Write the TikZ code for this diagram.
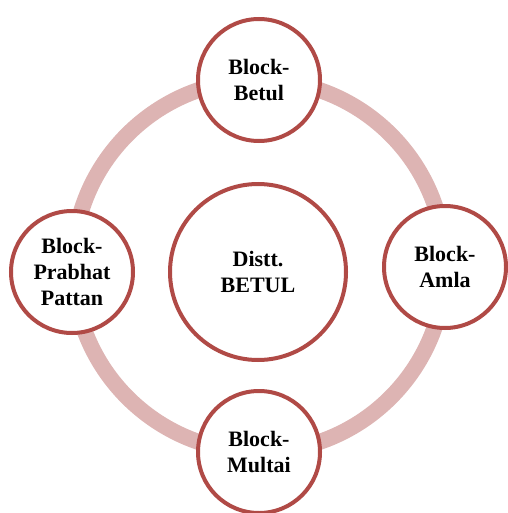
\documentclass[tikz,border=0pt]{standalone}
\usepackage{fontspec}
\setmainfont{Liberation Serif}
\definecolor{ringpink}{HTML}{DDB4B3}
\definecolor{blockred}{HTML}{B04A46}

\begin{document}
\begin{tikzpicture}[x=1pt,y=-1pt,
        blk/.style={circle,draw=blockred,line width=4pt,fill=white,
            minimum size=122pt,inner sep=0pt,align=center,
            font=\bfseries\fontsize{22}{26}\selectfont}]
    \useasboundingbox (0,0) rectangle (507,513);

    % ring behind the blocks
    \coordinate (hub) at (259,266);
    \draw[ringpink,line width=16pt] (hub) circle (186pt);

    \node[blk,minimum size=176pt] (distt) at (258,272) {Distt.\\BETUL};

    \node[blk] (betul) at (259,80) {Block-\\Betul};
    \node[blk] (amla) at (445,267) {Block-\\Amla};
    \node[blk] (multai) at (259,452) {Block-\\Multai};
    \node[blk] (prabhat) at (72,272) {Block-\\Prabhat\\Pattan};
\end{tikzpicture}
\end{document}
